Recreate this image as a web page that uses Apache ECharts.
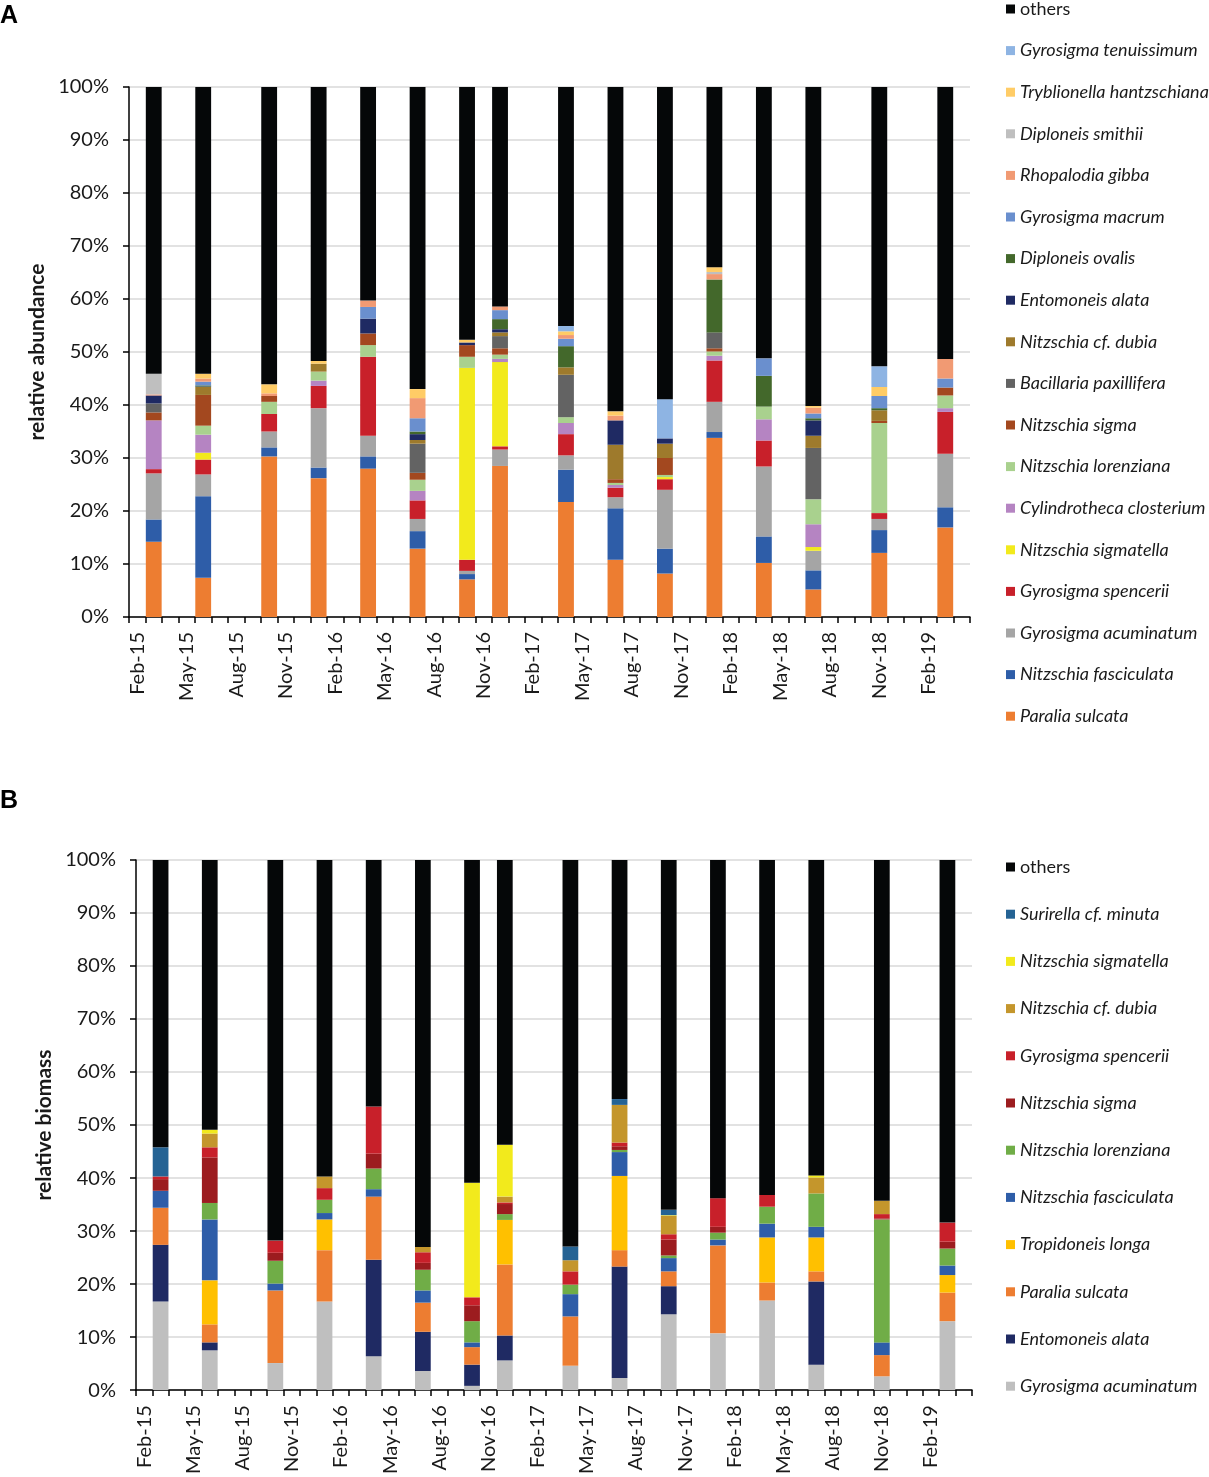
<!DOCTYPE html>
<html>
<head>
<meta charset="utf-8">
<script src="https://cdn.jsdelivr.net/npm/echarts@6/dist/echarts.min.js"></script>
<style>
  html, body { margin: 0; padding: 0; background: #fff; }
  #chartA { position: absolute; left: 0; top: 0; width: 1209px; height: 770px; }
  #chartB { position: absolute; left: 0; top: 770px; width: 1209px; height: 707px; }
</style>
</head>
<body>
<div id="chartA"></div>
<div id="chartB"></div>
<script>
// month categories of the x axis (one per month)
var months = ['Feb-15','Mar-15','Apr-15','May-15','Jun-15','Jul-15','Aug-15','Sep-15','Oct-15','Nov-15','Dec-15',
  'Jan-16','Feb-16','Mar-16','Apr-16','May-16','Jun-16','Jul-16','Aug-16','Sep-16','Oct-16','Nov-16','Dec-16',
  'Jan-17','Feb-17','Mar-17','Apr-17','May-17','Jun-17','Jul-17','Aug-17','Sep-17','Oct-17','Nov-17','Dec-17',
  'Jan-18','Feb-18','Mar-18','Apr-18','May-18','Jun-18','Jul-18','Aug-18','Sep-18','Oct-18','Nov-18','Dec-18',
  'Jan-19','Feb-19','Mar-19','Apr-19'];

// sampling dates (one bar each)
var samples = ['Mar-15','Jun-15','Oct-15','Jan-16','Apr-16','Jul-16','Oct-16','Dec-16',
  'Apr-17','Jul-17','Oct-17','Jan-18','Apr-18','Jul-18','Nov-18','Mar-19'];

// ---- A: relative abundance (%) ----
var paraliaA      = [14.2, 7.4, 30.3, 26.2, 28.0, 12.9, 7.1, 28.5, 21.7, 10.8, 8.2, 33.8, 10.2, 5.2, 12.1, 16.9];
var fasciculataA  = [4.2, 15.4, 1.7, 2.0, 2.3, 3.3, 1.0, 0, 6.1, 9.7, 4.7, 1.1, 5.0, 3.6, 4.3, 3.8];
var acuminatumA   = [8.7, 4.1, 3.0, 11.2, 3.9, 2.3, 0.6, 3.1, 2.7, 2.1, 11.1, 5.7, 13.2, 3.7, 2.1, 10.1];
var spenceriiA    = [0.8, 2.8, 3.3, 4.2, 14.9, 3.5, 2.1, 0.6, 4.0, 1.8, 2.0, 7.8, 4.9, 0, 1.1, 7.9];
var sigmatellaA   = [0, 1.3, 0, 0, 0, 0, 36.2, 15.9, 0, 0, 0.4, 0, 0, 0.7, 0, 0];
var cylindroA     = [9.2, 3.4, 0, 1.0, 0, 1.8, 0, 0.6, 2.1, 0.5, 0, 0.9, 4.0, 4.3, 0, 0.7];
var lorenzianaA   = [0, 1.7, 2.3, 1.7, 2.2, 2.1, 2.1, 0.8, 1.1, 0.4, 0.4, 0.8, 2.4, 4.7, 17.0, 2.4];
var sigmaA        = [1.5, 5.8, 1.1, 0, 2.2, 1.3, 2.2, 1.2, 0, 0.7, 3.2, 0.6, 0, 0, 0.4, 1.5];
var bacillariaA   = [1.7, 0, 0, 0, 0, 5.5, 0, 2.3, 8.0, 0, 0, 3.0, 0, 9.7, 0, 0];
var dubiaA        = [0, 1.5, 0, 1.5, 0, 0.7, 0, 0.7, 1.4, 6.5, 2.7, 0, 0, 2.3, 2.0, 0];
var entomoneisA   = [1.5, 0.1, 0, 0, 2.8, 1.1, 0.5, 0.6, 0, 4.6, 1.0, 0, 0, 2.9, 0, 0];
var ovalisA       = [0, 0.2, 0, 0, 0, 0.5, 0, 1.9, 4.0, 0, 0, 10.0, 5.8, 0.4, 0.4, 0];
var macrumA       = [0, 0.7, 0, 0, 2.2, 2.5, 0, 1.7, 1.4, 0, 0, 0, 3.3, 0.9, 2.3, 1.7];
var rhopalodiaA   = [0.2, 0.6, 0.5, 0, 1.2, 3.8, 0, 0.7, 0.7, 0.9, 0, 1.0, 0, 1.1, 0, 3.7];
var smithiiA      = [3.9, 0, 0, 0, 0, 0, 0, 0, 0, 0, 0, 0.4, 0, 0, 0, 0];
var tryblionellaA = [0, 0.9, 1.7, 0.5, 0, 1.7, 0.5, 0, 0.7, 0.8, 0, 0.9, 0, 0.3, 1.7, 0];
var tenuissimumA  = [0, 0, 0, 0, 0, 0, 0, 0, 1.0, 0, 7.4, 0, 0, 0, 3.9, 0];
var othersA       = [54.1, 54.1, 56.1, 51.7, 40.3, 57.0, 47.7, 41.4, 45.1, 61.2, 58.9, 34.0, 51.2, 60.2, 52.7, 51.3];

// ---- B: relative biomass (%) ----
var acuminatumB   = [16.7, 7.5, 5.1, 16.7, 6.4, 3.6, 0.8, 5.6, 4.6, 2.3, 14.3, 10.7, 16.9, 4.8, 2.6, 13.0];
var entomoneisB   = [10.7, 1.5, 0, 0, 18.2, 7.4, 4.0, 4.7, 0, 21.0, 5.3, 0, 0, 15.7, 0, 0];
var paraliaB      = [7.0, 3.4, 13.7, 9.7, 11.9, 5.5, 3.3, 13.4, 9.3, 3.1, 2.8, 16.6, 3.4, 1.9, 4.0, 5.4];
var tropidoneisB  = [0, 8.3, 0, 5.8, 0, 0, 0, 8.4, 0, 14.0, 0, 0, 8.5, 6.4, 0, 3.3];
var fasciculataB  = [3.2, 11.5, 1.3, 1.2, 1.4, 2.3, 0.9, 0, 4.2, 4.5, 2.5, 1.1, 2.6, 2.0, 2.4, 1.8];
var lorenzianaB   = [0, 3.1, 4.3, 2.5, 3.9, 3.9, 4.0, 1.1, 1.8, 0.4, 0.5, 1.3, 3.2, 6.3, 23.2, 3.2];
var sigmaB        = [2.2, 8.6, 1.5, 0, 2.8, 1.3, 3.0, 1.9, 0, 0.7, 3.0, 1.1, 0, 0, 0.2, 1.3];
var spenceriiB    = [0.5, 1.9, 2.3, 2.2, 8.9, 2.0, 1.5, 0.3, 2.5, 0.7, 1.0, 5.4, 2.2, 0, 0.8, 3.6];
var dubiaB        = [0, 2.6, 0, 2.2, 0, 1.0, 0, 1.1, 2.1, 7.1, 3.5, 0, 0, 3.0, 2.5, 0];
var sigmatellaB   = [0, 0.7, 0, 0, 0, 0, 21.6, 9.8, 0, 0, 0.1, 0, 0, 0.4, 0, 0];
var surirellaB    = [5.5, 0, 0, 0, 0, 0, 0, 0, 2.6, 1.1, 1.0, 0, 0, 0, 0, 0];
var othersB       = [54.2, 50.9, 71.8, 59.7, 46.5, 73.0, 60.9, 53.7, 72.9, 45.1, 66.0, 63.8, 63.2, 59.5, 64.3, 68.4];

// series in stack order (bottom first): [name, values, colour]
var stackA = [
  ['Paralia sulcata', paraliaA, '#ed7d31'],
  ['Nitzschia fasciculata', fasciculataA, '#2e5da8'],
  ['Gyrosigma acuminatum', acuminatumA, '#a5a5a5'],
  ['Gyrosigma spencerii', spenceriiA, '#c8202a'],
  ['Nitzschia sigmatella', sigmatellaA, '#f2ea1c'],
  ['Cylindrotheca closterium', cylindroA, '#b584c2'],
  ['Nitzschia lorenziana', lorenzianaA, '#a9d18e'],
  ['Nitzschia sigma', sigmaA, '#a3481f'],
  ['Bacillaria paxillifera', bacillariaA, '#636363'],
  ['Nitzschia cf. dubia', dubiaA, '#9e7a2c'],
  ['Entomoneis alata', entomoneisA, '#1f2a63'],
  ['Diploneis ovalis', ovalisA, '#43682b'],
  ['Gyrosigma macrum', macrumA, '#6a8fce'],
  ['Rhopalodia gibba', rhopalodiaA, '#f19a73'],
  ['Diploneis smithii', smithiiA, '#bfbfbf'],
  ['Tryblionella hantzschiana', tryblionellaA, '#ffcc66'],
  ['Gyrosigma tenuissimum', tenuissimumA, '#8eb4e3'],
  ['others', othersA, '#050708']
];
var stackB = [
  ['Gyrosigma acuminatum', acuminatumB, '#bfbfbf'],
  ['Entomoneis alata', entomoneisB, '#1f2a63'],
  ['Paralia sulcata', paraliaB, '#ed7d31'],
  ['Tropidoneis longa', tropidoneisB, '#ffc000'],
  ['Nitzschia fasciculata', fasciculataB, '#2e5da8'],
  ['Nitzschia lorenziana', lorenzianaB, '#70ad47'],
  ['Nitzschia sigma', sigmaB, '#9c1c1f'],
  ['Gyrosigma spencerii', spenceriiB, '#c8202a'],
  ['Nitzschia cf. dubia', dubiaB, '#c4962c'],
  ['Nitzschia sigmatella', sigmatellaB, '#f2ea1c'],
  ['Surirella cf. minuta', surirellaB, '#256394'],
  ['others', othersB, '#050708']
];

var FONT = 'Lato';
var TXT = '#1a1a1a';

function buildOption(letter, letterTop, yName, stack, grid, legendTop, legendStep) {
  var series = stack.map(function (s) {
    return {
      name: s[0],
      type: 'bar',
      stack: 'total',
      barCategoryGap: '4%',
      itemStyle: { color: s[2] },
      data: samples.map(function (d, i) { return [d, s[1][i]]; })
    };
  });
  var legendData = stack.slice().reverse().map(function (s) {
    return {
      name: s[0],
      textStyle: { fontStyle: s[0] === 'others' ? 'normal' : 'italic' }
    };
  });
  return {
    animation: false,
    title: {
      text: letter, left: 0, top: letterTop, padding: 0,
      textStyle: { fontFamily: 'Liberation Sans', fontWeight: 'bold', fontSize: 25, color: '#000' }
    },
    legend: {
      orient: 'vertical',
      left: 1006, top: legendTop, padding: 0,
      itemWidth: 9, itemHeight: 9,
      itemGap: legendStep - 18,
      icon: 'rect',
      selectedMode: false,
      textStyle: { fontFamily: FONT, fontSize: 18, color: TXT, lineHeight: 18 },
      data: legendData
    },
    grid: grid,
    xAxis: {
      type: 'category',
      data: months,
      axisLine: { lineStyle: { color: '#000', width: 1.5 } },
      axisTick: { show: true, interval: 0, length: 6, lineStyle: { color: '#000', width: 1.5 } },
      axisLabel: { interval: 2, rotate: 90, margin: 15, fontFamily: FONT, fontSize: 20, color: TXT }
    },
    yAxis: {
      type: 'value',
      min: 0, max: 100, interval: 10,
      name: yName,
      nameLocation: 'middle',
      nameGap: 81,
      nameTextStyle: { fontFamily: FONT, fontWeight: 'bold', fontSize: 21, color: TXT },
      axisLine: { show: true, lineStyle: { color: '#000', width: 1.5 } },
      axisTick: { show: true, length: 6, lineStyle: { color: '#000', width: 1.5 } },
      axisLabel: { formatter: '{value}%', margin: 20, fontFamily: FONT, fontSize: 20, color: TXT },
      splitLine: { lineStyle: { color: '#d9d9d9', width: 1.5 } }
    },
    series: series
  };
}

var chartA = echarts.init(document.getElementById('chartA'));
chartA.setOption(buildOption('A', 4, 'relative abundance', stackA,
  { left: 129, top: 87, width: 841, height: 530 }, 0, 41.6));

var chartB = echarts.init(document.getElementById('chartB'));
chartB.setOption(buildOption('B', 19, 'relative biomass', stackB,
  { left: 136, top: 90, width: 836, height: 531 }, 88, 47.2));
</script>
</body>
</html>
